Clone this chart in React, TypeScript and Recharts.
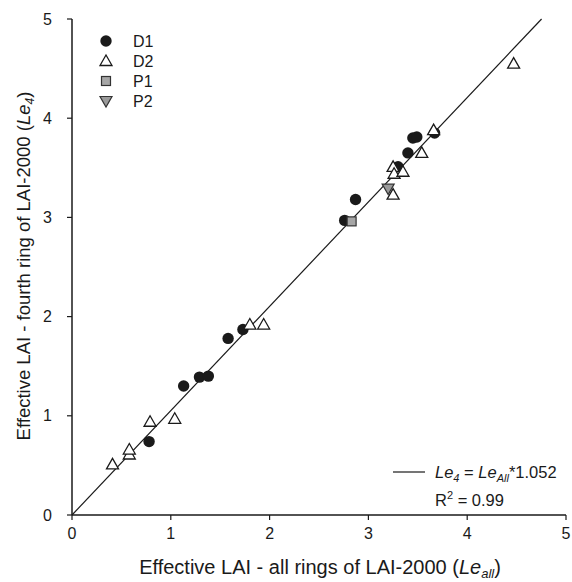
import React from "react";
import {
  ScatterChart,
  Scatter,
  XAxis,
  YAxis,
  ReferenceLine,
  Customized,
} from "recharts";

const d1X = [0.78, 1.13, 1.29, 1.38, 1.58, 1.73, 2.76, 2.87, 3.3, 3.4, 3.45, 3.49, 3.67];
const d1Y = [0.74, 1.3, 1.39, 1.4, 1.78, 1.87, 2.97, 3.18, 3.51, 3.65, 3.8, 3.81, 3.85];
const d2X = [0.41, 0.58, 0.58, 0.79, 1.04, 1.8, 1.94, 3.25, 3.25, 3.26, 3.35, 3.54, 3.66, 4.47];
const d2Y = [0.51, 0.61, 0.66, 0.94, 0.97, 1.92, 1.92, 3.23, 3.51, 3.44, 3.46, 3.65, 3.88, 4.55];
const p1X = [2.83];
const p1Y = [2.96];
const p2X = [3.2];
const p2Y = [3.29];
const ticks = [0, 1, 2, 3, 4, 5];
const SLOPE = 1.052;
const R2 = 0.99;
const seriesNames = ["D1", "D2", "P1", "P2"];

const zip = (xs: number[], ys: number[]) => xs.map((x, i) => ({ x, y: ys[i] }));
const d1 = zip(d1X, d1Y);
const d2 = zip(d2X, d2Y);
const p1 = zip(p1X, p1Y);
const p2 = zip(p2X, p2Y);

const INK = "#1a1a1a";
const FONT = "'Liberation Sans', Arial, sans-serif";

const CircleShape = (p: any) => <circle cx={p.cx} cy={p.cy} r={5.7} fill={INK} />;
const TriUp = (p: any) => (
  <polygon
    points={`${p.cx},${p.cy - 6} ${p.cx + 6},${p.cy + 4.5} ${p.cx - 6},${p.cy + 4.5}`}
    fill="#fff"
    stroke={INK}
    strokeWidth={1.3}
  />
);
const SquareShape = (p: any) => (
  <rect x={p.cx - 4.5} y={p.cy - 4.5} width={9} height={9} fill="#a6a6a6" stroke="#333" strokeWidth={1.2} />
);
const TriDown = (p: any) => (
  <polygon
    points={`${p.cx - 6},${p.cy - 4.5} ${p.cx + 6},${p.cy - 4.5} ${p.cx},${p.cy + 6}`}
    fill="#9a9a9a"
    stroke="#333"
    strokeWidth={1.2}
  />
);

const legendShapes = [CircleShape, TriUp, SquareShape, TriDown];

const Decorations = () => (
  <g fontFamily={FONT} fill={INK}>
    {seriesNames.map((n, i) => {
      const S = legendShapes[i];
      const cy = 41 + i * 20;
      return (
        <g key={n}>
          <S cx={106} cy={cy} />
          <text x={133} y={cy + 6} fontSize={16}>
            {n}
          </text>
        </g>
      );
    })}
    <line x1={393} y1={472} x2={425} y2={472} stroke={INK} strokeWidth={1.2} />
    <text x={435} y={477.5} fontSize={16.5}>
      <tspan fontStyle="italic">Le</tspan>
      <tspan fontSize={11} dy={4} fontStyle="italic">4</tspan>
      <tspan dy={-4}> = </tspan>
      <tspan fontStyle="italic">Le</tspan>
      <tspan fontSize={11} dy={4} fontStyle="italic">All</tspan>
      <tspan dy={-4}>*{SLOPE.toFixed(3)}</tspan>
    </text>
    <text x={435} y={506} fontSize={16.5}>
      <tspan>R</tspan>
      <tspan fontSize={11} dy={-7}>2</tspan>
      <tspan dy={7}> = {R2.toFixed(2)}</tspan>
    </text>
    <text x={320} y={574} fontSize={20} textAnchor="middle">
      <tspan>Effective LAI - all rings of LAI-2000 (</tspan>
      <tspan fontStyle="italic">Le</tspan>
      <tspan fontSize={13} dy={4} fontStyle="italic">all</tspan>
      <tspan dy={-4}>)</tspan>
    </text>
    <text x={30} y={266} fontSize={18.5} textAnchor="middle" transform="rotate(-90 30 266)">
      <tspan>Effective LAI - fourth ring of LAI-2000 (</tspan>
      <tspan fontStyle="italic">Le</tspan>
      <tspan fontSize={12} dy={4} fontStyle="italic">4</tspan>
      <tspan dy={-4}>)</tspan>
    </text>
  </g>
);

export default function App() {
  return (
    <div style={{ position: "absolute", left: 0, top: 0, background: "#fff" }}>
      <ScatterChart width={572} height={582} margin={{ top: 19, right: 6, bottom: 7, left: 0 }}>
        <XAxis
          type="number"
          dataKey="x"
          domain={[0, 5]}
          ticks={ticks}
          allowDataOverflow
          height={60}
          tickSize={5}
          tickMargin={8}
          axisLine={{ stroke: INK, strokeWidth: 1.5 }}
          tickLine={{ stroke: INK, strokeWidth: 1.2 }}
          tick={{ fill: INK, fontSize: 16, fontFamily: FONT }}
        />
        <YAxis
          type="number"
          dataKey="y"
          domain={[0, 5]}
          ticks={ticks}
          allowDataOverflow
          width={72}
          tickSize={5}
          tickMargin={15}
          axisLine={{ stroke: INK, strokeWidth: 1.5 }}
          tickLine={{ stroke: INK, strokeWidth: 1.2 }}
          tick={{ fill: INK, fontSize: 16, fontFamily: FONT }}
        />
        <XAxis
          xAxisId="top"
          orientation="top"
          type="number"
          domain={[0, 5]}
          height={0}
          tick={false}
          tickLine={false}
          axisLine={{ stroke: INK, strokeWidth: 1.5 }}
        />
        <YAxis
          yAxisId="right"
          orientation="right"
          type="number"
          domain={[0, 5]}
          width={0}
          tick={false}
          tickLine={false}
          axisLine={{ stroke: INK, strokeWidth: 1.5 }}
        />
        <Scatter data={d1} shape={CircleShape} isAnimationActive={false} />
        <Scatter data={d2} shape={TriUp} isAnimationActive={false} />
        <Scatter data={p1} shape={SquareShape} isAnimationActive={false} />
        <Scatter data={p2} shape={TriDown} isAnimationActive={false} />
        <ReferenceLine
          segment={[
            { x: 0, y: 0 },
            { x: 5 / SLOPE, y: 5 },
          ]}
          stroke={INK}
          strokeWidth={1.2}
          ifOverflow="extendDomain"
        />
        <Customized component={Decorations} />
      </ScatterChart>
    </div>
  );
}
